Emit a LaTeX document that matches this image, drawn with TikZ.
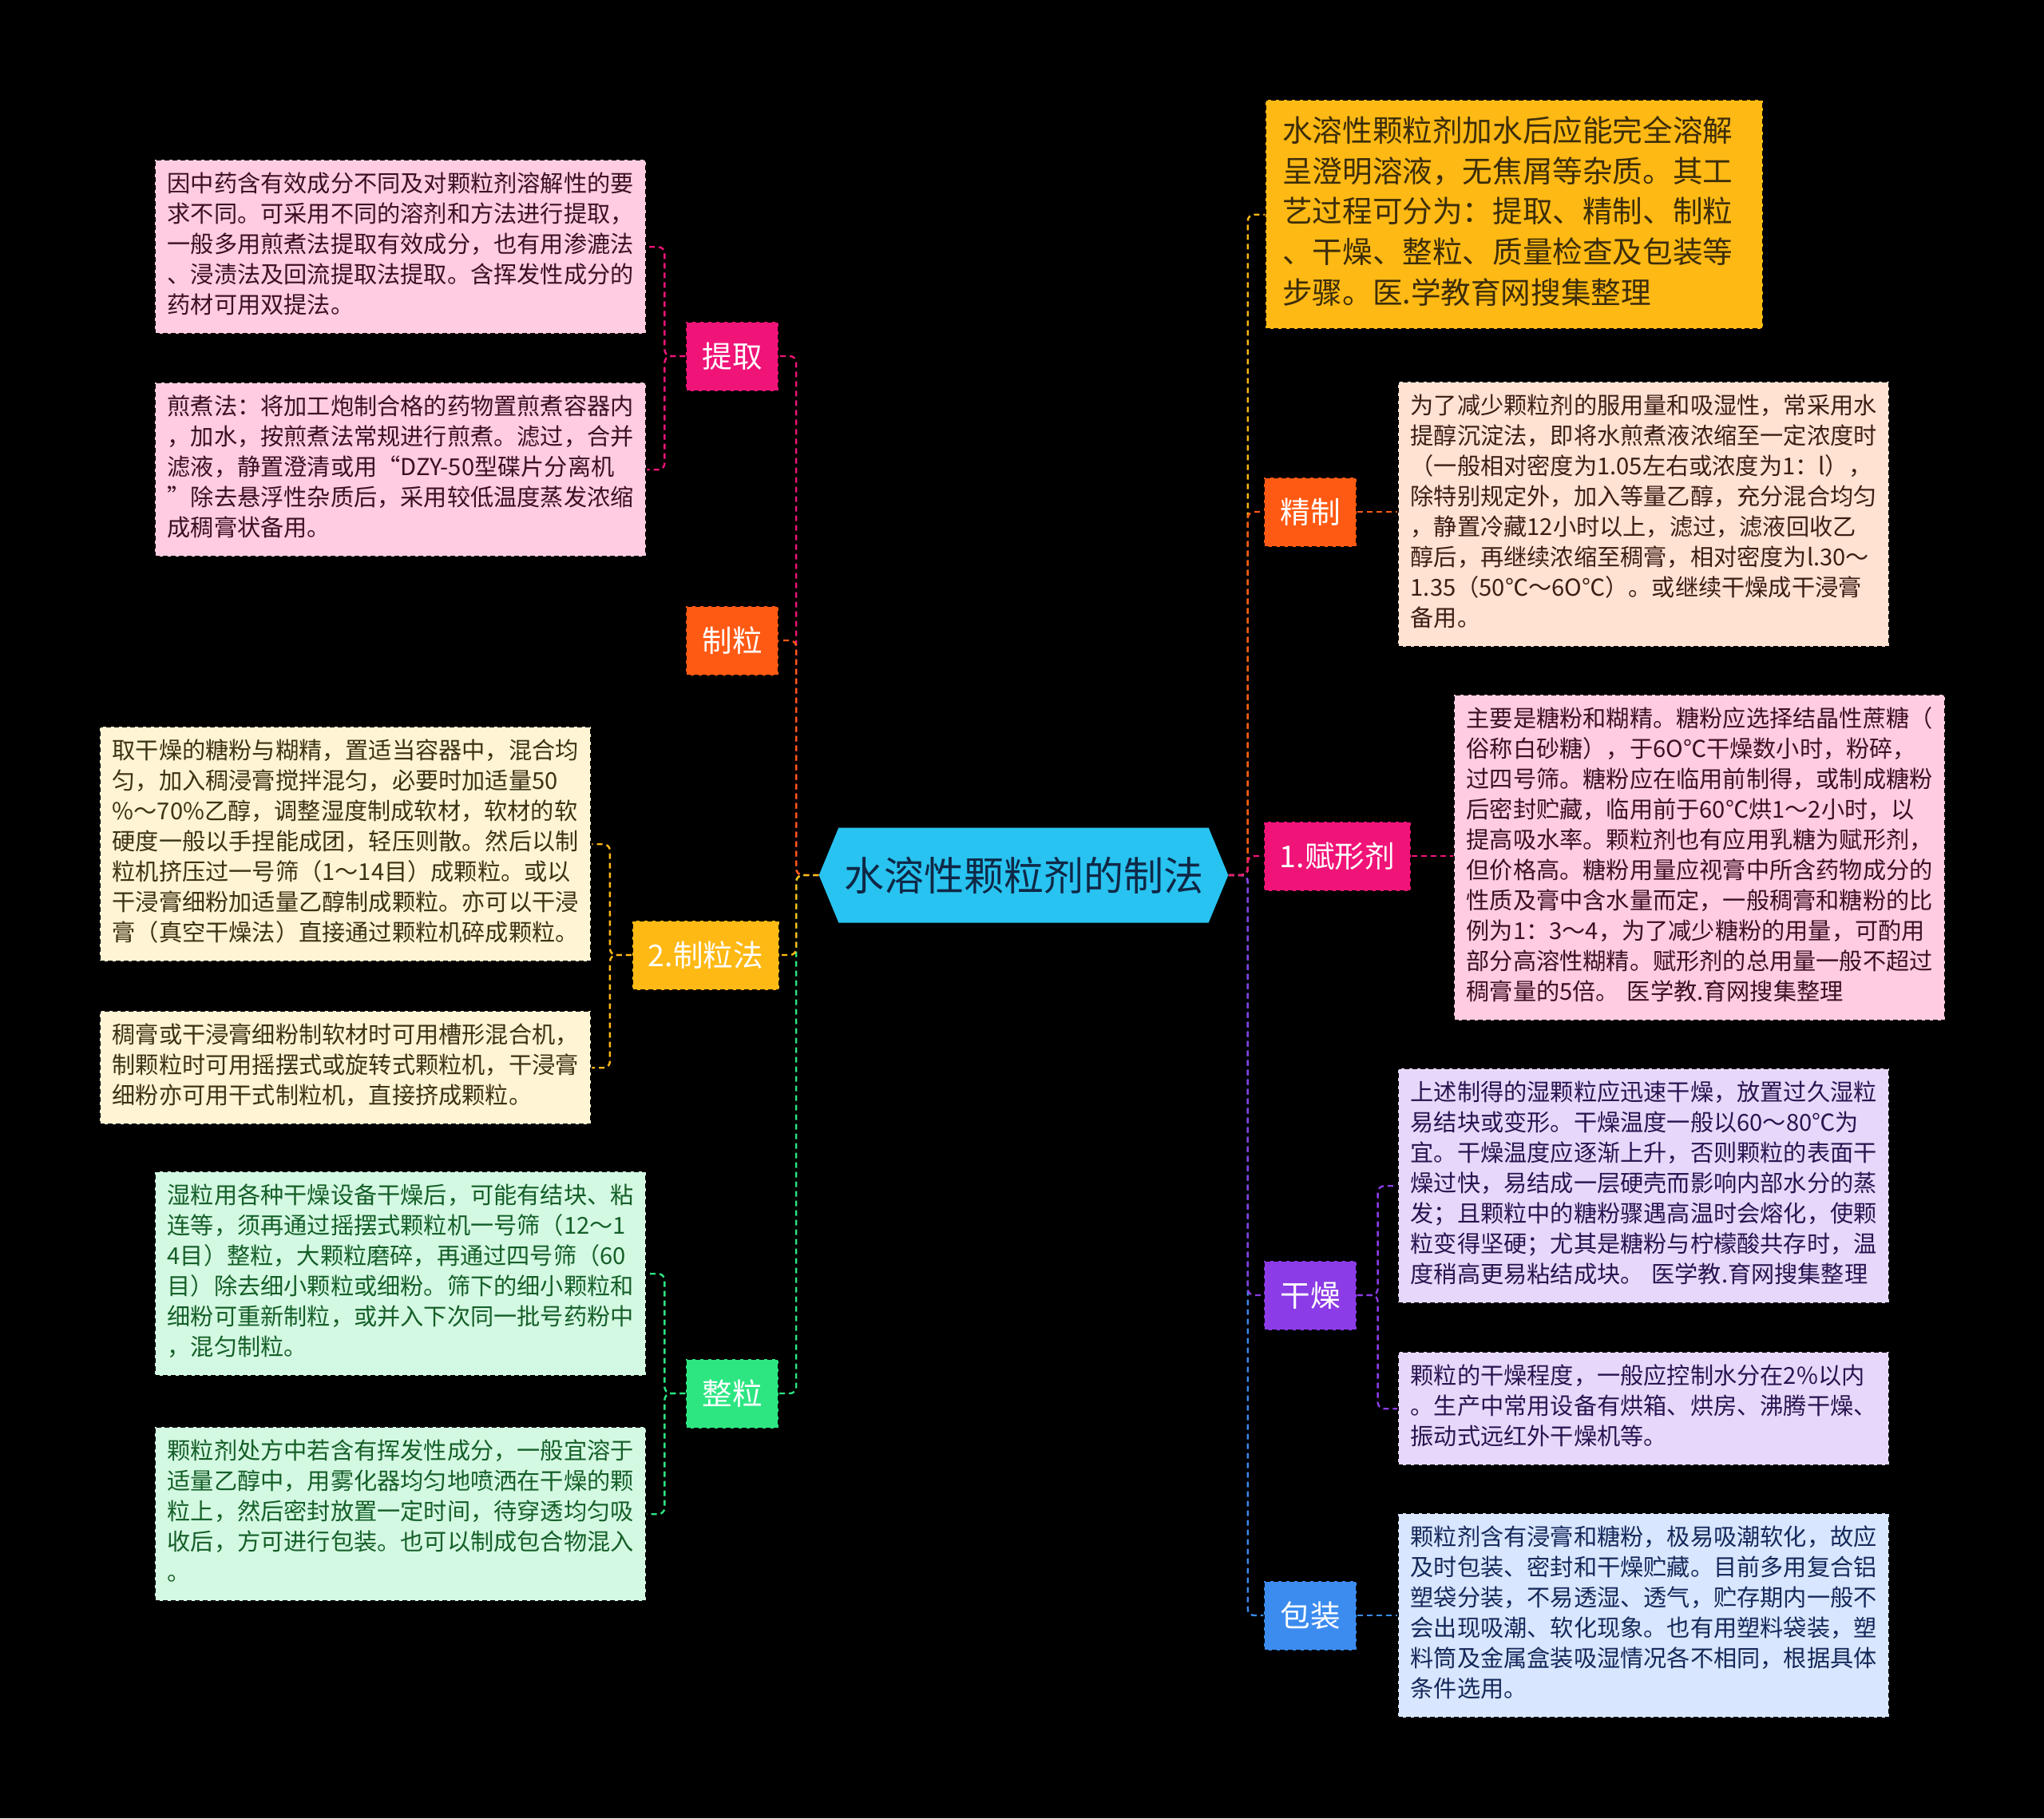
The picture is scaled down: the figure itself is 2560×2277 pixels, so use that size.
\documentclass[tikz,border=0pt]{standalone}
\usepackage{fontspec}
\setmainfont{Noto Sans CJK SC}
\usetikzlibrary{shapes.symbols}
\definecolor{rootCyan}{RGB}{40,195,240}
\definecolor{rootText}{RGB}{15,40,70}
\definecolor{tiquPink}{RGB}{240,20,120}
\definecolor{zhiliOrange}{RGB}{255,90,20}
\definecolor{faYellow}{RGB}{255,185,20}
\definecolor{zhengliGreen}{RGB}{45,230,130}
\definecolor{ganzaoPurple}{RGB}{140,60,230}
\definecolor{baozhuangBlue}{RGB}{60,140,240}
\definecolor{pinkFill}{RGB}{255,204,225}
\definecolor{creamFill}{RGB}{255,245,212}
\definecolor{greenFill}{RGB}{212,249,226}
\definecolor{peachFill}{RGB}{255,226,210}
\definecolor{lavFill}{RGB}{230,216,250}
\definecolor{blueFill}{RGB}{216,230,255}
\definecolor{pinkText}{RGB}{60,15,35}
\definecolor{creamText}{RGB}{60,50,20}
\definecolor{greenText}{RGB}{20,95,40}
\definecolor{peachText}{RGB}{60,30,20}
\definecolor{lavText}{RGB}{40,20,80}
\definecolor{blueText}{RGB}{20,40,90}
\definecolor{introText}{RGB}{60,45,10}
\newcommand{\leaffont}{\fontsize{14.6}{19}\selectfont}
\newcommand{\introfont}{\fontsize{18.8}{25.3}\selectfont}
\newcommand{\branchfont}{\fontsize{18.8}{22}\selectfont}
\newcommand{\rootfont}{\fontsize{25}{30}\selectfont}

\begin{document}
\begin{tikzpicture}[x=0.5pt, y=-0.5pt,
    leaf/.style={draw=black, line width=1.2pt, dash pattern=on 3pt off 2pt,
        text width=292pt, inner xsep=7.75pt, inner ysep=7pt, align=left,
        anchor=north west, font=\leaffont,
        execute at begin node=\strut, execute at end node=\strut},
    leafPink/.style={leaf, fill=pinkFill, text=pinkText},
    leafCream/.style={leaf, fill=creamFill, text=creamText},
    leafGreen/.style={leaf, fill=greenFill, text=greenText},
    leafPeach/.style={leaf, fill=peachFill, text=peachText},
    leafLav/.style={leaf, fill=lavFill, text=lavText},
    leafBlue/.style={leaf, fill=blueFill, text=blueText},
    branch/.style={fill=#1, draw=black, line width=1pt, dash pattern=on 3pt off 2pt,
        minimum height=43.5pt, inner xsep=10pt, text=white, font=\branchfont},
    link/.style={draw=#1, line width=1.2pt, dash pattern=on 3.5pt off 2.5pt, rounded corners=4pt},
]
    % Canvas
    \useasboundingbox (0,0) rectangle (2560,2277);
    \fill[black] (0,0) rectangle (2560,2277);

    % Root
    \node[shape=signal, signal to=east and west, signal pointer angle=135,
        fill=rootCyan, minimum width=253pt, minimum height=59.5pt,
        text=rootText, font=\rootfont] (root) at (1282,1096) {水溶性颗粒剂的制法};

    % Branches, left side
    \node[branch=tiquPink] (tiqu) at (917,446) {提取};
    \node[branch=zhiliOrange] (zhili) at (917,802) {制粒};
    \node[branch=faYellow] (zhilifa) at (884,1196) {2.制粒法};
    \node[branch=zhengliGreen] (zhengli) at (917,1745) {整粒};

    % Branches, right side
    \node[draw=black, line width=1.2pt, dash pattern=on 3pt off 2pt, fill=faYellow,
        text=introText, font=\introfont, text width=290.5pt, inner xsep=10.5pt,
        inner ysep=8.5pt, align=left, anchor=north west,
        execute at begin node=\strut, execute at end node=\strut] (intro) at (1584,124)
        {水溶性颗粒剂加水后应能完全溶解\\呈澄明溶液，无焦屑等杂质。其工\\艺过程可分为：提取、精制、制粒\\、干燥、整粒、质量检查及包装等\\步骤。医.学教育网搜集整理};
    \node[branch=zhiliOrange] (jingzhi) at (1641,641) {精制};
    \node[branch=tiquPink] (fuxing) at (1675,1072) {1.赋形剂};
    \node[branch=ganzaoPurple] (ganzao) at (1641,1622) {干燥};
    \node[branch=baozhuangBlue] (baozhuang) at (1641,2023) {包装};

    % Leaves, left side
    \node[leafPink] (tiquA) at (193,199) {因中药含有效成分不同及对颗粒剂溶解性的要\\求不同。可采用不同的溶剂和方法进行提取，\\一般多用煎煮法提取有效成分，也有用渗漉法\\、浸渍法及回流提取法提取。含挥发性成分的\\药材可用双提法。};
    \node[leafPink] (tiquB) at (193,478) {煎煮法：将加工炮制合格的药物置煎煮容器内\\，加水，按煎煮法常规进行煎煮。滤过，合并\\滤液，静置澄清或用“DZY-50型碟片分离机\\”除去悬浮性杂质后，采用较低温度蒸发浓缩\\成稠膏状备用。};
    \node[leafCream] (faA) at (124,909) {取干燥的糖粉与糊精，置适当容器中，混合均\\匀，加入稠浸膏搅拌混匀，必要时加适量50\\\%～70\%乙醇，调整湿度制成软材，软材的软\\硬度一般以手捏能成团，轻压则散。然后以制\\粒机挤压过一号筛（1～14目）成颗粒。或以\\干浸膏细粉加适量乙醇制成颗粒。亦可以干浸\\膏（真空干燥法）直接通过颗粒机碎成颗粒。};
    \node[leafCream] (faB) at (124,1265) {稠膏或干浸膏细粉制软材时可用槽形混合机，\\制颗粒时可用摇摆式或旋转式颗粒机，干浸膏\\细粉亦可用干式制粒机，直接挤成颗粒。};
    \node[leafGreen] (zhengliA) at (193,1466) {湿粒用各种干燥设备干燥后，可能有结块、粘\\连等，须再通过摇摆式颗粒机一号筛（12～1\\4目）整粒，大颗粒磨碎，再通过四号筛（60\\目）除去细小颗粒或细粉。筛下的细小颗粒和\\细粉可重新制粒，或并入下次同一批号药粉中\\，混匀制粒。};
    \node[leafGreen] (zhengliB) at (193,1786) {颗粒剂处方中若含有挥发性成分，一般宜溶于\\适量乙醇中，用雾化器均匀地喷洒在干燥的颗\\粒上，然后密封放置一定时间，待穿透均匀吸\\收后，方可进行包装。也可以制成包合物混入\\。};

    % Leaves, right side
    \node[leafPeach] (jingzhiA) at (1750,477) {为了减少颗粒剂的服用量和吸湿性，常采用水\\提醇沉淀法，即将水煎煮液浓缩至一定浓度时\\（一般相对密度为1.05左右或浓度为1：l），\\除特别规定外，加入等量乙醇，充分混合均匀\\，静置冷藏12小时以上，滤过，滤液回收乙\\醇后，再继续浓缩至稠膏，相对密度为l.30～\\1.35（50℃～6O℃）。或继续干燥成干浸膏\\备用。};
    \node[leafPink] (fuxingA) at (1820,869) {主要是糖粉和糊精。糖粉应选择结晶性蔗糖（\\俗称白砂糖），于6O℃干燥数小时，粉碎，\\过四号筛。糖粉应在临用前制得，或制成糖粉\\后密封贮藏，临用前于60℃烘1～2小时，以\\提高吸水率。颗粒剂也有应用乳糖为赋形剂，\\但价格高。糖粉用量应视膏中所含药物成分的\\性质及膏中含水量而定，一般稠膏和糖粉的比\\例为1：3～4，为了减少糖粉的用量，可酌用\\部分高溶性糊精。赋形剂的总用量一般不超过\\稠膏量的5倍。 医学教.育网搜集整理};
    \node[leafLav] (ganzaoA) at (1750,1337) {上述制得的湿颗粒应迅速干燥，放置过久湿粒\\易结块或变形。干燥温度一般以60～80℃为\\宜。干燥温度应逐渐上升，否则颗粒的表面干\\燥过快，易结成一层硬壳而影响内部水分的蒸\\发；且颗粒中的糖粉骤遇高温时会熔化，使颗\\粒变得坚硬；尤其是糖粉与柠檬酸共存时，温\\度稍高更易粘结成块。 医学教.育网搜集整理};
    \node[leafLav] (ganzaoB) at (1750,1692) {颗粒的干燥程度，一般应控制水分在2\%以内\\。生产中常用设备有烘箱、烘房、沸腾干燥、\\振动式远红外干燥机等。};
    \node[leafBlue] (baozhuangA) at (1750,1894) {颗粒剂含有浸膏和糖粉，极易吸潮软化，故应\\及时包装、密封和干燥贮藏。目前多用复合铝\\塑袋分装，不易透湿、透气，贮存期内一般不\\会出现吸潮、软化现象。也有用塑料袋装，塑\\料筒及金属盒装吸湿情况各不相同，根据具体\\条件选用。};

    % Root to branches
    \foreach \n/\c in {tiqu/tiquPink, zhili/zhiliOrange, zhengli/zhengliGreen, zhilifa/faYellow}
        \draw[link=\c] (root.west) -- ++(-28,0) |- (\n.east);
    \foreach \n/\c in {intro/faYellow, baozhuang/baozhuangBlue, ganzao/ganzaoPurple, jingzhi/zhiliOrange, fuxing/tiquPink}
        \draw[link=\c] (root.east) -- ++(24,0) |- (\n.west);

    % Branches to leaves
    \foreach \l in {tiquA, tiquB}
        \draw[link=tiquPink] (tiqu.west) -- ++(-26,0) |- (\l.east);
    \foreach \l in {faA, faB}
        \draw[link=faYellow] (zhilifa.west) -- ++(-27,0) |- (\l.east);
    \foreach \l in {zhengliA, zhengliB}
        \draw[link=zhengliGreen] (zhengli.west) -- ++(-26,0) |- (\l.east);
    \draw[link=zhiliOrange] (jingzhi.east) -- (jingzhi.east -| jingzhiA.west);
    \draw[link=tiquPink] (fuxing.east) -- (fuxing.east -| fuxingA.west);
    \foreach \l in {ganzaoA, ganzaoB}
        \draw[link=ganzaoPurple] (ganzao.east) -- ++(26,0) |- (\l.west);
    \draw[link=baozhuangBlue] (baozhuang.east) -- (baozhuang.east -| baozhuangA.west);
\end{tikzpicture}
\end{document}
